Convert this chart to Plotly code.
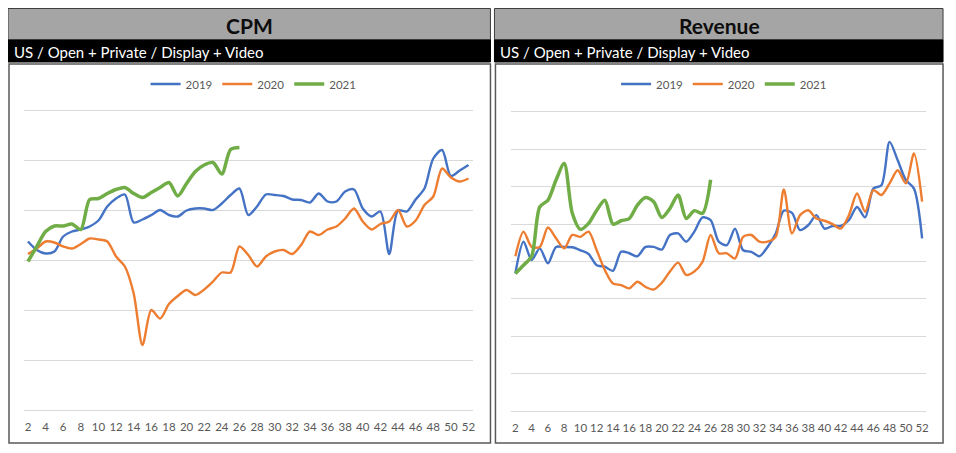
import plotly.graph_objects as go

# page body has an 8px margin; figure coordinates are offset so the page matches 956x453
OFF = 8
W, H = 956 - OFF, 453 - OFF

weeks = list(range(2, 53))
tick_weeks = list(range(2, 53, 2))
series_names = ["2019", "2020", "2021"]
colors = ["#4472C4", "#ED7D31", "#70AD47"]

cpm_2019 = [3.37, 3.20, 3.13, 3.17, 3.47, 3.57, 3.61, 3.67, 3.79, 4.07, 4.23, 4.31, 3.75, 3.81, 3.90, 4.00,
            3.90, 3.87, 3.99, 4.03, 4.03, 4.00, 4.13, 4.30, 4.43, 3.90, 4.07, 4.31, 4.30, 4.28, 4.21, 4.20,
            4.15, 4.33, 4.17, 4.17, 4.37, 4.41, 4.03, 3.87, 3.97, 3.12, 3.99, 3.97, 4.21, 4.43, 5.03, 5.20,
            4.68, 4.79, 4.90]
cpm_2020 = [3.12, 3.23, 3.37, 3.35, 3.27, 3.23, 3.32, 3.43, 3.41, 3.37, 3.07, 2.87, 2.33, 1.30, 2.00, 1.83,
            2.12, 2.28, 2.40, 2.30, 2.41, 2.57, 2.75, 2.75, 3.27, 3.10, 2.87, 3.07, 3.17, 3.20, 3.12, 3.30,
            3.57, 3.50, 3.61, 3.67, 3.83, 4.03, 3.77, 3.61, 3.72, 3.77, 4.00, 3.67, 3.79, 4.10, 4.27, 4.83,
            4.65, 4.57, 4.63]
cpm_2021 = [2.97, 3.27, 3.57, 3.68, 3.68, 3.72, 3.61, 4.21, 4.23, 4.33, 4.41, 4.45, 4.33, 4.25, 4.35, 4.45,
            4.55, 4.28, 4.53, 4.77, 4.90, 4.95, 4.72, 5.21, 5.25]

rev_2019 = [3.68, 4.53, 4.04, 4.35, 3.95, 4.39, 4.39, 4.38, 4.30, 4.20, 3.90, 3.86, 3.75, 4.26, 4.22, 4.14,
            4.39, 4.39, 4.32, 4.71, 4.75, 4.53, 4.80, 5.18, 5.11, 4.53, 4.44, 4.88, 4.30, 4.26, 4.14, 4.39,
            4.75, 5.36, 5.30, 4.84, 4.97, 5.24, 4.88, 4.95, 4.95, 5.11, 5.46, 5.18, 5.95, 6.04, 7.20, 6.71,
            6.18, 5.95, 4.62]
rev_2020 = [4.14, 4.80, 4.39, 4.39, 4.91, 4.62, 4.35, 4.71, 4.66, 4.80, 4.30, 3.77, 3.41, 3.37, 3.28, 3.46,
            3.32, 3.25, 3.43, 3.73, 3.97, 3.64, 3.73, 3.99, 4.71, 4.22, 4.22, 4.08, 4.66, 4.71, 4.53, 4.53,
            4.66, 5.93, 4.75, 5.24, 5.37, 5.15, 5.09, 5.00, 4.88, 5.24, 5.82, 5.33, 5.91, 5.78, 6.09, 6.44,
            6.09, 6.89, 5.60]
rev_2021 = [3.68, 3.90, 4.14, 5.46, 5.64, 6.18, 6.62, 5.29, 4.86, 5.02, 5.37, 5.64, 5.00, 5.09, 5.15, 5.51,
            5.71, 5.60, 5.18, 5.42, 5.78, 5.15, 5.36, 5.29, 6.19]

panels = [
    {"title": "CPM", "data": [cpm_2019, cpm_2020, cpm_2021], "ymax": 6},
    {"title": "Revenue", "data": [rev_2019, rev_2020, rev_2021], "ymax": 8},
]
subtitle = "US / Open + Private / Display + Video"

FONT = "Lato"
YPAD = 0.03  # small headroom so the top gridline is drawn


def px(x):
    return (x - OFF) / W


def py(y):
    return 1 - (y - OFF) / H


# panel geometry in page pixels (ploty: pixel of top gridline, pixel of baseline)
geo = [
    {"box": (9, 492), "plotx": (23.6, 474.4), "ploty": (110, 410), "legx": 146},
    {"box": (497, 946), "plotx": (512.9, 929.1), "ploty": (112, 411), "legx": 618},
]

fig = go.Figure()
shapes = []
annotations = []
ydomains = []

for i, (panel, g) in enumerate(zip(panels, geo)):
    xa = "x" if i == 0 else "x2"
    ya = "y" if i == 0 else "y2"
    leg = "legend" if i == 0 else "legend2"
    for name, vals, col in zip(series_names, panel["data"], colors):
        fig.add_trace(go.Scatter(
            x=weeks[:len(vals)], y=vals, name=name, mode="lines",
            line=dict(color=col, width=3.5 if name == "2021" else 2.4, shape="spline", smoothing=0.8),
            xaxis=xa, yaxis=ya, legend=leg, hoverinfo="skip",
        ))
    x0, x1 = g["box"]
    top, base = g["ploty"]
    ppu = (base - top) / panel["ymax"]
    ydomains.append([py(base), py(top - YPAD * ppu)])
    shapes.append(dict(type="rect", xref="paper", yref="paper", x0=px(x0 - 1), x1=px(x1), y0=py(40), y1=py(8.5),
                       fillcolor="#A5A5A5", line=dict(color="#3F3F3F", width=1), layer="below"))
    shapes.append(dict(type="rect", xref="paper", yref="paper", x0=px(x0 - 1), x1=px(x1), y0=py(62), y1=py(40),
                       fillcolor="#000000", line=dict(color="#000000", width=1), layer="below"))
    shapes.append(dict(type="rect", xref="paper", yref="paper", x0=px(x0), x1=px(x1), y0=py(443), y1=py(64),
                       fillcolor="#FFFFFF", line=dict(color="#595959", width=1.5), layer="below"))
    annotations.append(dict(xref="paper", yref="paper", x=px((x0 + x1) / 2), y=py(25), text="<b>%s</b>" % panel["title"],
                            showarrow=False, xanchor="center", yanchor="middle",
                            font=dict(family=FONT, size=21, color="#0D0D0D")))
    annotations.append(dict(xref="paper", yref="paper", x=px(x0 + 3), y=py(51.5), text=subtitle,
                            showarrow=False, xanchor="left", yanchor="middle",
                            font=dict(family=FONT, size=15, color="#FFFFFF")))

axis_common = dict(range=[1.5, 52.5], tickmode="array", tickvals=tick_weeks, ticktext=[str(t) for t in tick_weeks],
                   showgrid=False, zeroline=False, showline=True, linecolor="#D9D9D9", linewidth=1,
                   ticks="outside", ticklen=6, tickcolor="rgba(0,0,0,0)",
                   tickfont=dict(family=FONT, size=11.5, color="#595959"), fixedrange=True)

yaxis_common = dict(dtick=1, showgrid=True, gridcolor="#D9D9D9", gridwidth=1, zeroline=False,
                    showticklabels=False, showline=False, fixedrange=True)

legend_common = dict(orientation="h", xanchor="left", yanchor="middle",
                     font=dict(family=FONT, size=11.5, color="#595959"), bgcolor="rgba(0,0,0,0)",
                     itemwidth=30, tracegroupgap=0)

fig.update_layout(
    width=W, height=H, margin=dict(l=0, r=0, t=0, b=0),
    paper_bgcolor="#FFFFFF", plot_bgcolor="rgba(0,0,0,0)",
    shapes=shapes, annotations=annotations,
    xaxis=dict(domain=[px(geo[0]["plotx"][0]), px(geo[0]["plotx"][1])], anchor="y", **axis_common),
    xaxis2=dict(domain=[px(geo[1]["plotx"][0]), px(geo[1]["plotx"][1])], anchor="y2", **axis_common),
    yaxis=dict(domain=ydomains[0], range=[0, panels[0]["ymax"] + YPAD], anchor="x", **yaxis_common),
    yaxis2=dict(domain=ydomains[1], range=[0, panels[1]["ymax"] + YPAD], anchor="x2", **yaxis_common),
    legend=dict(x=px(geo[0]["legx"]), y=py(84), **legend_common),
    legend2=dict(x=px(geo[1]["legx"]), y=py(84), **legend_common),
    showlegend=True,
)

fig.write_html("out.html", config={"displayModeBar": False})
